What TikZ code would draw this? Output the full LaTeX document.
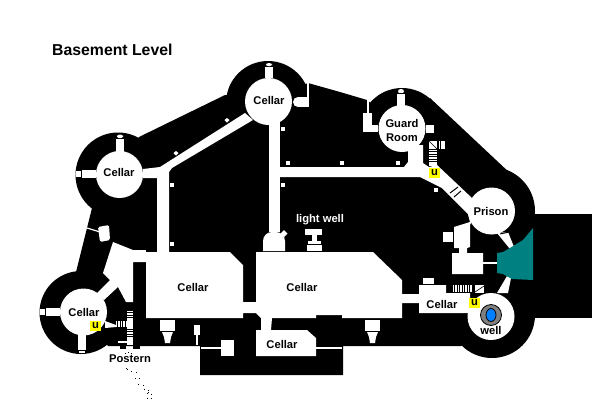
\documentclass[tikz,border=0pt]{standalone}
\usepackage{fontspec}
\setmainfont{Liberation Sans}
\definecolor{tealfill}{HTML}{008080}
\definecolor{wellblue}{HTML}{0080FF}
\definecolor{wellgrey}{HTML}{808080}
\definecolor{uyellow}{HTML}{FFFF00}
\tikzset{
  room/.style={fill=white},
  mass/.style={fill=black},
  lbl/.style={font=\fontsize{11.2}{13}\selectfont\bfseries,inner sep=0pt,align=center,text=black},
  ubox/.style={fill=uyellow},
  stripe/.style={draw=white,line width=1.1pt},
  thin/.style={draw=white,line width=1.2pt},
  darkline/.style={draw=black,line width=1pt},
  dot/.style={fill=black}
}
\begin{document}
\begin{tikzpicture}[x=1pt,y=-1pt]
\useasboundingbox (0,0) rectangle (600,400);
\fill[white] (0,0) rectangle (600,400);
% ---- outer mass
\fill[mass] (139,137)--(225,95)--(268,100)--(308,83)--(340,92)--(367,100)--(402,128)--(430,98)--(512,175)--(535,214)--(535,318)--(491,316)--(461,346)--(343,346)--(343,375)--(200,375)--(200,346)--(108,346)--(83,312)--(76,272)--(92,208)--(85,200)--(119,174)--cycle;
\fill[mass] (81,312.5) circle (41.5);
\fill[mass] (118,175) circle (42.5);
\fill[mass] (268,103) circle (42);
\fill[mass] (402,130) circle (42);
\fill[mass] (491,211) circle (44);
\fill[mass] (492,315) circle (43);
\fill[mass] (530,214) rectangle (592,318);
% ---- round rooms
\fill[room] (83.5,312) circle (23.5);
\fill[room] (119.5,174.5) circle (23.5);
\fill[room] (268.5,101.5) circle (23.5);
\fill[room] (402,128.5) circle (23.5);
\fill[room] (491.5,211) circle (23.5);
\fill[room] (491,316.5) circle (23.5);
% ---- corridors
\fill[room] (143,169)--(160,167)--(245,113)--(253,120)--(172,168)--(169,172)--(169,254)--(157,254)--(157,178)--(143,178)--cycle;
\fill[room] (269,118) rectangle (280,232);
\fill[room] (263,251) {[rounded corners=9pt] --(263,232)--(285,232)} --(285,251)--cycle;
\fill[room] (280,167)--(404,167)--(408,162)--(408,145)--(423,145)--(423,163)--(429,167)--(437,165)--(472,198)--(480,205)--(470,225)--(470,247)--(467,248)--(467,253)--(483,253)--(483,274)--(452,274)--(452,253)--(459,253)--(459,248)--(454,248)--(454,227)--(470,222)--(468,214)--(442,188)--(420,177)--(280,177)--cycle;
\fill[room] (443,232) rectangle (453,242);
% guard-room chambers
\fill[room] (397,93) rectangle (405,106);
\fill[room,rounded corners=2.5pt] (398,89) rectangle (404,93.5);
\fill[black] (397,92.6) rectangle (405,93.4);
\fill[room] (363,113) rectangle (372,132);
\fill[room] (372,125) rectangle (378,132);
\fill[room] (367,100) rectangle (369,114);
\fill[room] (426,125) rectangle (434,133);
% Tower 3 chambers
\fill[room] (265,67) rectangle (273,78);
\fill[room,rounded corners=2.5pt] (266,63) rectangle (272,66.2);
% Tower 3 east chamber
\fill[room] (306.7,83) rectangle (308.7,107);
\fill[room] (298,97) rectangle (308.7,107);
\fill[room] (298,102) circle (5);
% Tower 2 chambers
\fill[room] (116,139) rectangle (124,152);
\fill[room,rounded corners=2.5pt] (117,134.5) rectangle (123,138.2);
\fill[room] (82,170) rectangle (96,178);
\fill[room] (76,171) rectangle (80.5,177);
% Tower 1 chambers
\fill[room] (46,308) rectangle (60,316);
\fill[room] (40,309) rectangle (45,315);
\fill[room] (78,335) rectangle (86,350);
\fill[room] (79,351) rectangle (85,353);
\fill[room,rounded corners=1.5pt] (98,227)--(109,225)--(110,240)--(100,242)--cycle;
\draw[thin] (87,228)--(100,232);
% West white area and cellar
\fill[room] (113,242)--(133,250)--(145,252)--(230,252)--(243,265)--(243,302)--(256,302)--(256,252)--(373,252)--(402,280)--(402,294)--(419,294)--(419,285)--(446,285)--(446,293)--(470,293)--(470,313)--(419,313)--(419,303)--(402,303)--(402,318)--(342,318)--(342,315)--(316,315)--(316,318)--(272,318)--(271,330)--(307,330)--(316,338)--(316,356)--(256,356)--(256,330)--(261,330)--(261,318)--(256,313)--(243,313)--(243,318)--(146,318)--(146,262)--(133,262)--(133,302)--(126,302)--(118,287)--(104,300)--(97,293)--(110,280)--(103,273)--cycle;
\fill[room] (133,250) rectangle (146,262);
% small squares
\foreach \p in {(172,185),(172,244),(283,129),(288,163),(283,185),(342,163),(398,163),(436,190)}
  \fill[room] \p ++(-2,-2) rectangle ++(4,4);
\fill[room] (227,118)--(229.5,120)--(227,122.5)--(224.5,120)--cycle;
\fill[room] (176,151)--(178.5,153)--(176,155.5)--(173.5,153)--cycle;
\fill[room] (284,230)--(287.5,233.5)--(284,237)--(280.5,233.5)--cycle;
% light well
\fill[room] (305,229) rectangle (322,235);
\fill[room] (312,235) rectangle (317,241);
\fill[room] (308,241) rectangle (321,243.5);
\fill[room] (307,244.5) rectangle (322,251);
% Slits south
\fill[room] (160,320) rectangle (175,331);
\fill[room] (162,332)--(173,332)--(171,337)--(170,343)--(165,343)--(164,337)--cycle;
\fill[room] (365,320) rectangle (380,331);
\fill[room] (367,332)--(378,332)--(376,337)--(375,343)--(370,343)--(369,337)--cycle;
\fill[room] (194,325) rectangle (200,335);
\fill[room] (196,335) rectangle (198,345);
\fill[room] (221,340) rectangle (234,356);
\draw[thin] (201,348)--(221,348);
\draw[thin] (316,348)--(342,348);
% West stairs
\fill[room] (105,321)--(116,325)--(116,327)--(105,328)--cycle;
\fill[room] (127,320) rectangle (133,327);
\fill[room] (127,338) rectangle (133,345);
\foreach \y in {311.5,314,316.5,319,328,330.5,333,335.5,338}
  \draw[stripe] (127,\y)--(133,\y);
\foreach \x in {116.5,119,121.5,124,126.5}
  \draw[stripe] (\x,321)--(\x,327);
\draw[thin] (118,342)--(133,342);
\fill[mass] (120,345) rectangle (126,349);
\fill[mass] (133,345) rectangle (140,349);
% East stairs
\foreach \x in {453.5,456,458.5,461,463.5,466,468.5,471}
  \draw[stripe] (\x,285)--(\x,292);
\fill[room] (475,285) rectangle (484,293);
\draw[darkline,line width=.6pt] (475,292)--(484,286);
\fill[room] (423,278) rectangle (434,284);
% North-east stairs
\fill[room] (429,141) rectangle (437,149);
\draw[darkline,line width=.6pt] (429,141)--(437,149);
\foreach \y in {150.5,153,155.5,158,160.5,163,165}
  \draw[stripe] (429,\y)--(437,\y);
\foreach \x in {439.5,442,444}
  \draw[stripe] (\x,141)--(\x,149);
\draw[darkline] (450,193)--(458,187);
\draw[darkline] (454,197)--(461,191);
% Wedges and teal
\fill[room] (497,233)--(508,232)--(514,247)--(510,249)--cycle;
\draw[darkline] (500,234)--(509,232);
\fill[room] (507,276)--(511,278)--(508,293)--(497,293)--cycle;
\draw[thin] (483,263)--(497,263);
\fill[tealfill] (497,253)--(503,252)--(510,248)--(523,240)--(533,228)--(533,280)--(512,279)--(503,274)--(497,273)--cycle;
% Well
\fill[wellgrey,draw=black,line width=.8pt] (491,315) circle (10.5);
\fill[wellblue,draw=black,line width=.8pt] (491,315) ellipse (5 and 6.5);
% yellow u boxes
\fill[ubox] (429,168) rectangle (440,178);
\fill[ubox] (90,321) rectangle (101,331);
\fill[ubox] (469,298) rectangle (480,308);
% Postern dots
\foreach \p in {(128,352),(125,353),(131,353),(126,368),(127,369),(131,371),(136,372),(135,378),(139,378),(138,384),(143,385),(144,389),(148,390),(148,392),(147,393),(151,394),(147,398),(151,398)}
  \fill[dot] \p ++(-.5,-.5) rectangle ++(1,1);
% text
\node[lbl,font=\fontsize{15.8}{18}\selectfont\bfseries,anchor=west] (title) at (52,50) {Basement Level};
\node[lbl] (c1) at (84,312) {Cellar};
\node[lbl] (c2) at (119,172) {Cellar};
\node[lbl] (c3) at (269,100) {Cellar};
\node[lbl] (guard) at (402,130.5) {Guard\\[1pt]Room};
\node[lbl] (prison) at (491,211) {Prison};
\node[lbl] (c4) at (193,287) {Cellar};
\node[lbl] (c5) at (302,287) {Cellar};
\node[lbl] (c6) at (442,304) {Cellar};
\node[lbl] (c7) at (282,344) {Cellar};
\node[lbl] (well) at (491,330) {well};
\node[lbl,text=white] (light) at (320,220) {light well};
\node[lbl] (postern) at (130,359) {Postern};
\node[lbl] (u1) at (434.5,173) {u};
\node[lbl] (u2) at (95.5,326) {u};
\node[lbl] (u3) at (474.5,303) {u};
\end{tikzpicture}
\end{document}
